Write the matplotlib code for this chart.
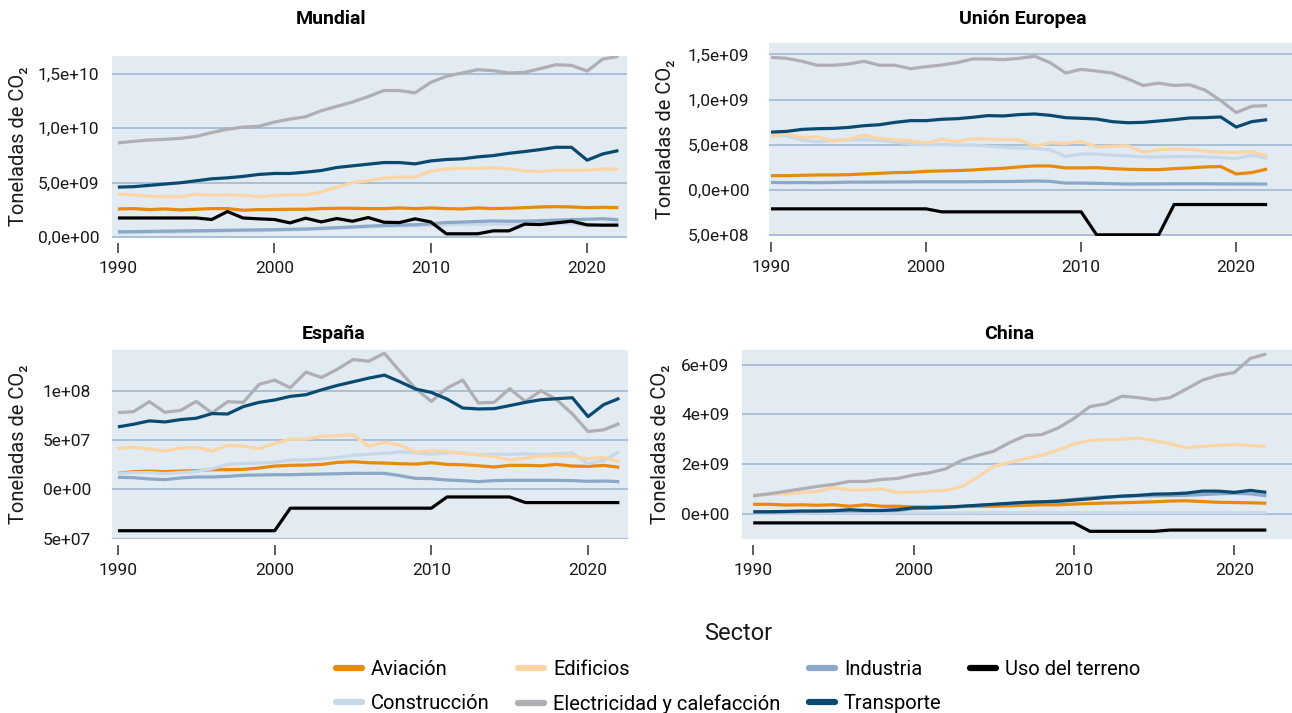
import matplotlib
matplotlib.use("Agg")
import matplotlib.pyplot as plt
from matplotlib import font_manager

# Police : une police étroite si disponible, sinon Roboto
noms = {f.name for f in font_manager.fontManager.ttflist}
police = 'Liberation Sans Narrow' if 'Liberation Sans Narrow' in noms else 'Roboto'
plt.rcParams['font.family'] = [police, 'DejaVu Sans']

annees = list(range(1990, 2023))

secteurs = ['Aviación', 'Construcción', 'Edificios', 'Electricidad y calefacción',
            'Industria', 'Transporte', 'Uso del terreno']
couleurs = {
    'Aviación': '#E98A0C',
    'Construcción': '#C9D8E8',
    'Edificios': '#FCD5A4',
    'Electricidad y calefacción': '#AFAEB4',
    'Industria': '#8BA8C6',
    'Transporte': '#0B4A70',
    'Uso del terreno': '#000000',
}

# Mundial (en 1e9 t)
mundial_aviacion = [2.60, 2.63, 2.54, 2.60, 2.51, 2.57, 2.63, 2.63, 2.48, 2.54, 2.54, 2.57, 2.57, 2.63, 2.66, 2.66, 2.63,
                    2.63, 2.69, 2.63, 2.69, 2.63, 2.60, 2.69, 2.63, 2.66, 2.72, 2.78, 2.81, 2.78, 2.72, 2.75, 2.72]
mundial_construccion = [0.42, 0.44, 0.46, 0.48, 0.50, 0.52, 0.55, 0.57, 0.60, 0.62, 0.65, 0.68, 0.72, 0.78, 0.84, 0.90, 0.96,
                        1.00, 1.02, 1.04, 1.10, 1.15, 1.18, 1.20, 1.22, 1.20, 1.20, 1.22, 1.25, 1.25, 1.05, 1.15, 1.30]
mundial_edificios = [3.95, 3.90, 3.75, 3.72, 3.72, 3.93, 3.85, 3.88, 3.85, 3.70, 3.85, 3.88, 3.90, 4.15, 4.60, 5.00, 5.20,
                     5.42, 5.52, 5.52, 6.06, 6.27, 6.30, 6.30, 6.40, 6.27, 6.09, 6.03, 6.15, 6.15, 6.15, 6.27, 6.24]
mundial_electricidad = [8.65, 8.80, 8.92, 8.98, 9.07, 9.25, 9.60, 9.90, 10.10, 10.17, 10.56, 10.84, 11.05, 11.60, 12.00,
                        12.40, 12.90, 13.45, 13.45, 13.24, 14.20, 14.76, 15.06, 15.37, 15.27, 15.06, 15.12, 15.46, 15.82,
                        15.76, 15.24, 16.34, 16.58]
mundial_industria = [0.50, 0.52, 0.54, 0.56, 0.58, 0.60, 0.62, 0.64, 0.66, 0.68, 0.70, 0.73, 0.76, 0.82, 0.88, 0.95, 1.02,
                     1.08, 1.12, 1.15, 1.25, 1.35, 1.40, 1.45, 1.50, 1.47, 1.48, 1.52, 1.57, 1.62, 1.65, 1.70, 1.60]
mundial_transporte = [4.60, 4.64, 4.76, 4.88, 5.00, 5.18, 5.36, 5.45, 5.58, 5.76, 5.85, 5.85, 5.97, 6.12, 6.40, 6.55, 6.70,
                      6.85, 6.85, 6.73, 7.00, 7.13, 7.19, 7.37, 7.49, 7.70, 7.86, 8.04, 8.25, 8.25, 7.07, 7.64, 7.95]
mundial_uso = [1.77, 1.77, 1.77, 1.77, 1.77, 1.77, 1.63, 2.36, 1.77, 1.69, 1.63, 1.32, 1.75, 1.41, 1.72, 1.47, 1.81,
               1.38, 1.35, 1.69, 1.41, 0.32, 0.32, 0.32, 0.59, 0.59, 1.20, 1.17, 1.32, 1.47, 1.14, 1.11, 1.11]

# Unión Europea (en 1e8 t)
ue_aviacion = [1.56, 1.56, 1.60, 1.64, 1.64, 1.67, 1.75, 1.82, 1.90, 1.93, 2.04, 2.08, 2.12, 2.19, 2.30, 2.38, 2.53,
               2.64, 2.64, 2.42, 2.42, 2.45, 2.34, 2.27, 2.23, 2.23, 2.34, 2.42, 2.53, 2.57, 1.75, 1.90, 2.30]
ue_construccion = [6.02, 6.02, 5.50, 5.32, 5.46, 5.54, 5.54, 5.46, 5.28, 5.06, 4.98, 5.02, 4.95, 4.98, 4.83, 4.72, 4.61,
                   4.61, 4.42, 3.68, 3.98, 3.94, 3.83, 3.75, 3.64, 3.64, 3.68, 3.68, 3.64, 3.57, 3.46, 3.83, 3.49]
ue_edificios = [5.91, 6.21, 5.80, 5.84, 5.39, 5.61, 6.06, 5.69, 5.54, 5.43, 5.17, 5.58, 5.35, 5.65, 5.61, 5.58, 5.54,
                4.83, 5.20, 5.13, 5.35, 4.76, 4.83, 4.87, 4.16, 4.42, 4.50, 4.46, 4.28, 4.16, 4.13, 4.24, 3.75]
ue_electricidad = [14.68, 14.57, 14.24, 13.80, 13.80, 13.94, 14.24, 13.80, 13.80, 13.42, 13.64, 13.83, 14.09, 14.50,
                   14.50, 14.42, 14.57, 14.80, 14.09, 12.94, 13.35, 13.16, 12.94, 12.30, 11.56, 11.82, 11.56, 11.64,
                   11.04, 9.89, 8.55, 9.26, 9.33]
ue_industria = [0.82, 0.78, 0.80, 0.78, 0.80, 0.84, 0.84, 0.85, 0.86, 0.87, 0.88, 0.88, 0.88, 0.89, 0.90, 0.91, 0.93,
                0.97, 0.93, 0.74, 0.74, 0.71, 0.67, 0.63, 0.65, 0.65, 0.66, 0.66, 0.66, 0.65, 0.64, 0.64, 0.63]
ue_transporte = [6.39, 6.47, 6.69, 6.77, 6.80, 6.91, 7.10, 7.21, 7.47, 7.66, 7.66, 7.81, 7.88, 8.03, 8.22, 8.18, 8.33,
                 8.40, 8.25, 7.99, 7.92, 7.84, 7.55, 7.43, 7.47, 7.62, 7.77, 7.96, 7.99, 8.07, 6.95, 7.55, 7.77]
ue_uso = [-2.12, -2.12, -2.12, -2.12, -2.12, -2.12, -2.12, -2.12, -2.12, -2.12, -2.12, -2.45, -2.45, -2.45, -2.45,
          -2.45, -2.45, -2.45, -2.45, -2.45, -2.45, -5.00, -5.00, -5.00, -5.00, -5.00, -1.64, -1.64, -1.64, -1.64,
          -1.64, -1.64, -1.64]

# España (en 1e6 t)
es_aviacion = [16.2, 17.9, 18.5, 17.9, 18.5, 18.9, 19.9, 19.9, 20.2, 21.6, 23.6, 24.3, 24.6, 25.3, 27.3, 28.0, 27.0,
               26.6, 26.0, 25.6, 27.0, 25.3, 24.9, 23.9, 22.6, 24.3, 24.3, 23.9, 25.3, 23.6, 23.3, 24.3, 22.3]
es_construccion = [16.0, 17.0, 17.0, 16.0, 17.0, 18.0, 20.9, 25.3, 26.3, 26.6, 27.6, 29.7, 30.0, 30.7, 32.4, 34.4, 35.7,
                   36.7, 37.8, 37.1, 35.7, 37.1, 37.1, 35.1, 35.7, 35.4, 36.1, 35.1, 36.1, 37.1, 26.0, 29.3, 38.4]
es_edificios = [41.5, 42.8, 40.8, 38.8, 41.8, 42.5, 38.8, 44.5, 43.8, 41.1, 46.5, 50.9, 50.9, 53.9, 54.6, 55.3, 43.8,
                47.9, 44.8, 37.8, 39.1, 38.4, 36.1, 35.1, 33.0, 29.7, 31.7, 33.4, 34.1, 33.4, 31.0, 32.4, 28.0]
es_electricidad = [77.9, 78.9, 89.0, 78.2, 80.2, 89.3, 77.5, 89.0, 88.3, 106.5, 110.9, 103.2, 119.0, 113.6, 122.0,
                   131.8, 130.1, 138.2, 119.7, 102.2, 89.3, 102.8, 110.9, 87.7, 88.3, 102.2, 89.3, 100.1, 91.0, 76.5,
                   58.7, 60.4, 66.8]
es_industria = [12.1, 11.8, 10.5, 9.8, 11.5, 12.5, 12.5, 13.1, 14.2, 14.5, 14.8, 14.8, 15.2, 15.5, 15.8, 16.2, 16.2,
                16.2, 13.8, 11.1, 10.8, 9.4, 8.8, 7.8, 8.8, 9.1, 9.1, 9.1, 9.1, 8.8, 8.1, 8.4, 7.8]
es_transporte = [63.4, 66.1, 69.5, 68.4, 70.8, 72.2, 76.9, 76.5, 84.0, 88.3, 90.7, 94.4, 96.1, 101.1, 105.5, 109.2,
                 112.9, 116.0, 109.2, 101.8, 98.4, 91.7, 82.6, 81.6, 81.9, 85.0, 88.3, 91.0, 92.0, 93.0, 73.8, 86.0, 92.4]
es_uso = [-42.1, -42.1, -42.1, -42.1, -42.1, -42.1, -42.1, -42.1, -42.1, -42.1, -42.1, -19.2, -19.2, -19.2, -19.2,
          -19.2, -19.2, -19.2, -19.2, -19.2, -19.2, -7.8, -7.8, -7.8, -7.8, -7.8, -13.5, -13.5, -13.5, -13.5, -13.5,
          -13.5, -13.5]

# China (en 1e9 t)
cn_aviacion = [0.38, 0.38, 0.35, 0.36, 0.34, 0.36, 0.30, 0.36, 0.30, 0.30, 0.27, 0.27, 0.28, 0.29, 0.30, 0.30, 0.32,
               0.34, 0.36, 0.36, 0.39, 0.41, 0.43, 0.44, 0.46, 0.48, 0.51, 0.52, 0.49, 0.46, 0.45, 0.44, 0.42]
cn_construccion = [0.02, 0.02, 0.02, 0.02, 0.03, 0.03, 0.03, 0.03, 0.03, 0.03, 0.03, 0.03, 0.03, 0.03, 0.04, 0.04, 0.04,
                   0.04, 0.04, 0.04, 0.04, 0.04, 0.04, 0.04, 0.04, 0.04, 0.04, 0.04, 0.04, 0.04, 0.04, 0.04, 0.04]
cn_edificios = [0.75, 0.78, 0.80, 0.86, 0.90, 1.05, 0.95, 0.95, 1.00, 0.86, 0.87, 0.91, 0.94, 1.09, 1.48, 1.91, 2.07,
                2.23, 2.36, 2.56, 2.81, 2.95, 2.99, 3.00, 3.05, 2.95, 2.82, 2.66, 2.72, 2.75, 2.79, 2.75, 2.71]
cn_electricidad = [0.72, 0.80, 0.90, 1.00, 1.10, 1.18, 1.30, 1.30, 1.38, 1.42, 1.56, 1.65, 1.81, 2.15, 2.35, 2.52, 2.87,
                   3.15, 3.19, 3.45, 3.84, 4.32, 4.43, 4.74, 4.68, 4.59, 4.68, 5.02, 5.38, 5.58, 5.69, 6.26, 6.44]
cn_industria = [0.05, 0.06, 0.07, 0.08, 0.09, 0.10, 0.11, 0.11, 0.12, 0.13, 0.20, 0.22, 0.25, 0.29, 0.33, 0.37, 0.41,
                0.45, 0.48, 0.52, 0.58, 0.64, 0.68, 0.70, 0.72, 0.72, 0.73, 0.74, 0.77, 0.80, 0.82, 0.80, 0.72]
cn_transporte = [0.08, 0.08, 0.09, 0.11, 0.11, 0.12, 0.16, 0.13, 0.13, 0.16, 0.24, 0.24, 0.26, 0.30, 0.34, 0.38, 0.42,
                 0.46, 0.48, 0.50, 0.55, 0.60, 0.66, 0.71, 0.74, 0.79, 0.80, 0.83, 0.91, 0.91, 0.86, 0.94, 0.86]
cn_uso = [-0.37, -0.37, -0.37, -0.37, -0.37, -0.37, -0.37, -0.37, -0.37, -0.37, -0.37, -0.37, -0.37, -0.37, -0.37,
          -0.37, -0.37, -0.37, -0.37, -0.37, -0.37, -0.71, -0.71, -0.71, -0.71, -0.71, -0.66, -0.66, -0.66, -0.66,
          -0.66, -0.66, -0.66]

regiones = {
    'Mundial': (1e9, [mundial_aviacion, mundial_construccion, mundial_edificios, mundial_electricidad,
                      mundial_industria, mundial_transporte, mundial_uso]),
    'Unión Europea': (1e8, [ue_aviacion, ue_construccion, ue_edificios, ue_electricidad,
                            ue_industria, ue_transporte, ue_uso]),
    'España': (1e6, [es_aviacion, es_construccion, es_edificios, es_electricidad,
                     es_industria, es_transporte, es_uso]),
    'China': (1e9, [cn_aviacion, cn_construccion, cn_edificios, cn_electricidad,
                    cn_industria, cn_transporte, cn_uso]),
}

# Ticks et libellés de l'axe y (le signe moins manque dans l'original)
yticks = {
    'Mundial': ([0, 5e9, 1e10, 1.5e10], ['0,0e+00', '5,0e+09', '1,0e+10', '1,5e+10']),
    'Unión Europea': ([-5e8, 0, 5e8, 1e9, 1.5e9], ['5,0e+08', '0,0e+00', '5,0e+08', '1,0e+09', '1,5e+09']),
    'España': ([-5e7, 0, 5e7, 1e8], ['5e+07', '0e+00', '5e+07', '1e+08']),
    'China': ([0, 2e9, 4e9, 6e9], ['0e+00', '2e+09', '4e+09', '6e+09']),
}

# Mise en page : [gauche, haut, droite, bas] en pixels, limites x, limites y, pad y, position du label y, titre
W, H = 1292, 713
mise_en_page = {
    'Mundial': ((112, 56, 627, 237.5), (1989.62, 2022.55), (-0.02e9, 16.62e9), 9, 28, (331, 19)),
    'Unión Europea': ((769, 43, 1292, 236), (1989.87, 2023.6), (-5.13e8, 16.27e8), 14, 675, (1023, 19)),
    'España': ((112, 350, 628, 539), (1989.62, 2022.55), (-50.5e6, 141.5e6), 15, 28, (334, 334)),
    'China': ((742, 350, 1292, 539), (1989.3, 2023.6), (-1.02e9, 6.6e9), 9, 670, (1009, 334)),
}

fig = plt.figure(figsize=(W / 100, H / 100), dpi=100)

for region, (echelle, series) in regiones.items():
    (x0, y0, x1, y1), xlim, ylim, pad_y, x_label, (tx, ty) = mise_en_page[region]
    ax = fig.add_axes([x0 / W, 1 - y1 / H, (x1 - x0) / W, (y1 - y0) / H])
    ax.set_facecolor('#E2EAF2')

    for secteur, valeurs in zip(secteurs, series):
        ax.plot(annees, [v * echelle for v in valeurs], color=couleurs[secteur], lw=2.3,
                solid_capstyle='butt', solid_joinstyle='round')

    ax.set_xlim(*xlim)
    ax.set_ylim(*ylim)
    ax.set_xticks([1990, 2000, 2010, 2020])
    ticks, labels = yticks[region]
    ax.set_yticks(ticks, labels)

    ax.yaxis.grid(True, color='#9BB3CD', lw=1.1)
    ax.set_axisbelow(True)
    for s in ax.spines.values():
        s.set_visible(False)
    ax.spines['bottom'].set_position(('outward', 4))

    ax.tick_params(axis='x', length=7, width=1.1, color='#333333', pad=6, labelsize=12.5, labelcolor='#1a1a1a')
    ax.tick_params(axis='y', length=0, pad=pad_y, labelsize=12.5, labelcolor='#1a1a1a')

    ax.set_ylabel('Toneladas de CO₂', fontsize=14.5, family=['Roboto', 'DejaVu Sans'], color='#1a1a1a')
    ax.yaxis.set_label_coords((x_label - x0) / (x1 - x0), 0.5)

    fig.text(tx / W, 1 - ty / H, region, ha='center', va='center', fontsize=14, fontweight='bold')

# Légende commune en bas
handles = [plt.Line2D([], [], color=couleurs[s], lw=4.5, solid_capstyle='round') for s in secteurs]
leg = fig.legend(handles, secteurs, loc='upper center', bbox_to_anchor=(738 / W, 1 - 612 / H), ncol=4,
                 frameon=False, title='Sector', title_fontsize=17, fontsize=14.5, handlelength=1.3,
                 handletextpad=0.45, columnspacing=1.4, labelspacing=0.75, borderpad=0)
leg.get_title().set_color('#1a1a1a')

fig.savefig('out.png', dpi=100)
